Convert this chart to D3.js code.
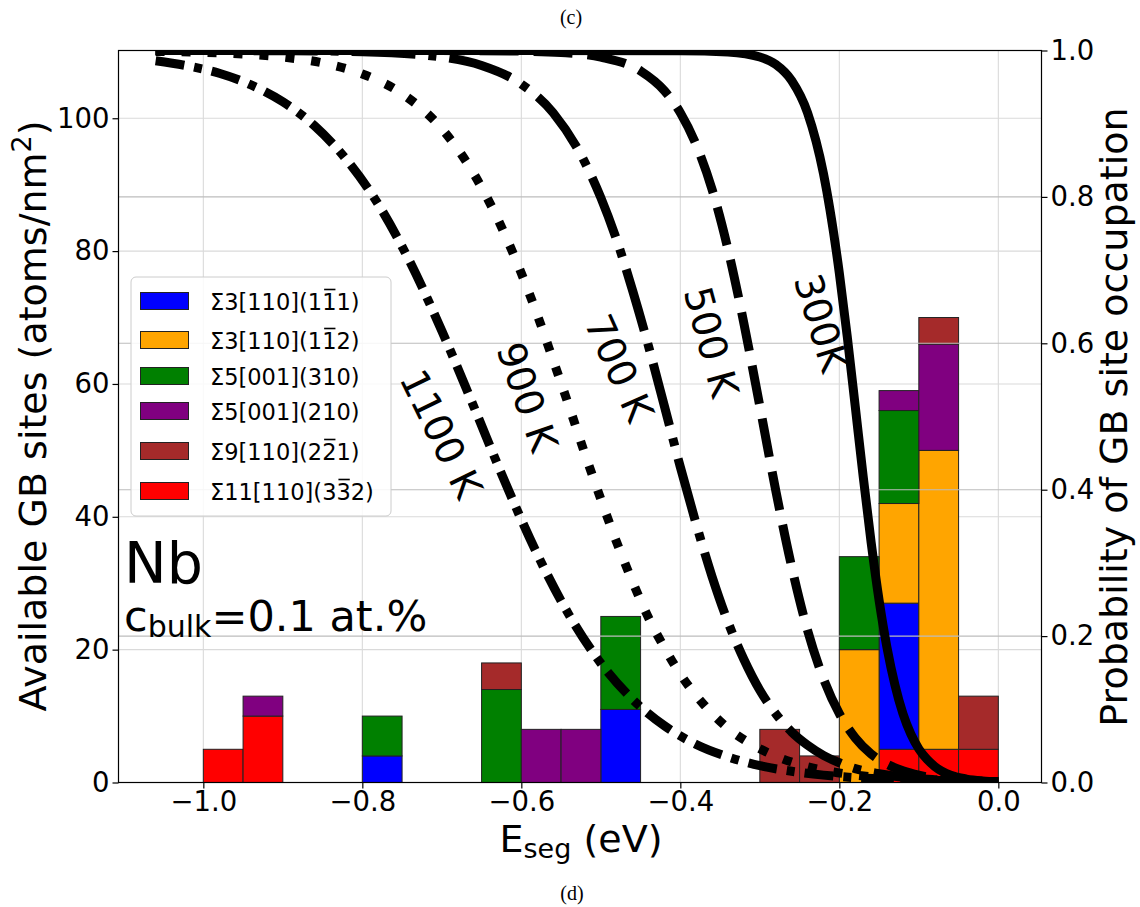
<!DOCTYPE html>
<html><head><meta charset="utf-8">
<script src="https://cdn.jsdelivr.net/npm/d3@7"></script>
<style>body{margin:0;background:#fff}svg{display:block}</style>
</head><body>
<svg id="chart" width="1140" height="907"></svg>
<script>
// ---------------- DATA ----------------
const binStarts = [-1.0,-0.95,-0.9,-0.85,-0.8,-0.75,-0.7,-0.65,-0.6,-0.55,-0.5,-0.45,-0.4,-0.35,-0.3,-0.25,-0.2,-0.15,-0.1,-0.05];
const binWidth = 0.05;
const sigma3_111  = [0,0,0,0,4,0,0,0,0,0,11,0,0,0,0,0,0,22,0,0];
const sigma3_112  = [0,0,0,0,0,0,0,0,0,0,0,0,0,0,0,0,20,15,45,0];
const sigma5_310  = [0,0,0,0,6,0,0,14,0,0,14,0,0,0,0,0,14,14,0,0];
const sigma5_210  = [0,3,0,0,0,0,0,0,8,8,0,0,0,0,0,0,0,3,16,0];
const sigma9_221  = [0,0,0,0,0,0,0,4,0,0,0,0,0,0,8,4,0,0,4,8];
const sigma11_332 = [5,10,0,0,0,0,0,0,0,0,0,0,0,0,0,0,0,5,5,5];

const seriesKeys   = ["s3_111","s3_112","s5_310","s5_210","s9_221","s11_332"];
const seriesValues = [sigma3_111, sigma3_112, sigma5_310, sigma5_210, sigma9_221, sigma11_332];
const seriesColors = ["#0000ff","#ffa500","#008000","#800080","#a52a2a","#ff0000"];
// legend label parts: [before, overlined digit, after]
const seriesLabels = [
  ["Σ3[110](1","1","1)"],
  ["Σ3[110](1","1","2)"],
  ["Σ5[001](310)","",""],
  ["Σ5[001](210)","",""],
  ["Σ9[110](2","2","1)"],
  ["Σ11[110](3","3","2)"]
];
const stackOrder = ["s11_332","s3_111","s3_112","s5_310","s5_210","s9_221"];

// occupation probability curves: [E_seg (eV), probability]
const curve300K = [[-1.06,1.0],[-0.6,1.0],[-0.4,0.9998],[-0.34,0.998],[-0.30,0.991],[-0.28,0.981],[-0.26,0.959],[-0.24,0.915],[-0.22,0.832],[-0.20,0.696],[-0.19,0.609],[-0.18,0.514],[-0.17,0.418],[-0.16,0.328],[-0.15,0.249],[-0.14,0.184],[-0.13,0.133],[-0.12,0.094],[-0.11,0.066],[-0.10,0.046],[-0.09,0.032],[-0.08,0.022],[-0.06,0.010],[-0.04,0.0047],[-0.02,0.0022],[0.0,0.001]];
const curve500K = [[-1.06,1.0],[-0.8,1.0],[-0.7,0.9999],[-0.6,0.9991],[-0.55,0.9972],[-0.50,0.991],[-0.45,0.972],[-0.42,0.945],[-0.40,0.915],[-0.38,0.871],[-0.36,0.810],[-0.34,0.728],[-0.32,0.627],[-0.30,0.514],[-0.28,0.399],[-0.26,0.295],[-0.24,0.208],[-0.22,0.142],[-0.20,0.094],[-0.18,0.061],[-0.16,0.039],[-0.14,0.025],[-0.12,0.016],[-0.10,0.010],[-0.05,0.0032],[0.0,0.001]];
const curve700K = [[-1.06,1.0],[-0.9,0.9997],[-0.8,0.9983],[-0.7,0.991],[-0.65,0.9795],[-0.60,0.954],[-0.56,0.915],[-0.52,0.847],[-0.50,0.799],[-0.48,0.741],[-0.46,0.672],[-0.44,0.596],[-0.42,0.514],[-0.40,0.431],[-0.38,0.353],[-0.36,0.281],[-0.34,0.219],[-0.32,0.168],[-0.30,0.126],[-0.28,0.094],[-0.26,0.069],[-0.24,0.051],[-0.22,0.037],[-0.20,0.027],[-0.18,0.019],[-0.15,0.012],[-0.12,0.0072],[-0.08,0.0038],[-0.04,0.0019],[0.0,0.001]];
const curve900K = [[-1.06,0.9988],[-1.0,0.9975],[-0.95,0.9952],[-0.90,0.991],[-0.85,0.983],[-0.80,0.968],[-0.75,0.941],[-0.70,0.893],[-0.66,0.832],[-0.62,0.747],[-0.58,0.639],[-0.56,0.577],[-0.54,0.514],[-0.52,0.449],[-0.50,0.387],[-0.48,0.328],[-0.46,0.274],[-0.44,0.225],[-0.42,0.184],[-0.40,0.148],[-0.37,0.106],[-0.34,0.074],[-0.31,0.052],[-0.28,0.036],[-0.25,0.0245],[-0.22,0.0168],[-0.19,0.0115],[-0.16,0.0078],[-0.13,0.0053],[-0.10,0.0036],[-0.05,0.0019],[0.0,0.001]];
const curve1100K = [[-1.06,0.986],[-1.02,0.979],[-0.98,0.969],[-0.94,0.953],[-0.90,0.930],[-0.86,0.897],[-0.82,0.851],[-0.78,0.790],[-0.74,0.711],[-0.70,0.617],[-0.66,0.514],[-0.62,0.409],[-0.58,0.312],[-0.54,0.229],[-0.50,0.163],[-0.46,0.1135],[-0.42,0.0775],[-0.38,0.052],[-0.34,0.035],[-0.30,0.023],[-0.26,0.0153],[-0.22,0.0101],[-0.18,0.0066],[-0.14,0.0044],[-0.10,0.0029],[-0.05,0.0017],[0.0,0.001]];

const curves = [
  {name:"300K",  pts:curve300K,  dash:null},
  {name:"500 K", pts:curve500K,  dash:"39,15"},
  {name:"700 K", pts:curve700K,  dash:"64,13,8,13"},
  {name:"900 K", pts:curve900K,  dash:"9,17"},
  {name:"1100 K",pts:curve1100K, dash:"29,10,8,10"}
];
const curveLabelPlacement = [
  {cx:821, cy:323, rot:73},
  {cx:711, cy:342, rot:75},
  {cx:619, cy:368, rot:66},
  {cx:527, cy:397, rot:71},
  {cx:441, cy:434, rot:64}
];

const xTickValues = [-1.0,-0.8,-0.6,-0.4,-0.2,0.0];
const yLeftTicks  = [0,20,40,60,80,100];
const yRightTicks = [0.0,0.2,0.4,0.6,0.8,1.0];

// ---------------- LAYOUT ----------------
const FONT = "DejaVu Sans";
const L = 118.5, R = 1041.5, T = 50.5, B = 782.5;
const svg = d3.select("#chart");
svg.append("rect").attr("width",1140).attr("height",907).attr("fill","#fff");

const x = d3.scaleLinear().domain([-1.1067, 0.0543]).range([L, R]);
const yL = d3.scaleLinear().domain([0, 110.2]).range([B, T]);
const yR = d3.scaleLinear().domain([0, 1.0]).range([B, T]);

svg.append("defs").append("clipPath").attr("id","plotclip")
  .append("rect").attr("x",L).attr("y",T).attr("width",R-L).attr("height",B-T);

// grid (left axis + x) beneath bars
const gGrid = svg.append("g");
gGrid.selectAll(".vg").data(xTickValues).join("line")
  .attr("x1",d=>x(d)).attr("x2",d=>x(d)).attr("y1",T).attr("y2",B)
  .attr("stroke","#dadada").attr("stroke-width",1.1);
gGrid.selectAll(".hg").data(yLeftTicks.slice(1)).join("line")
  .attr("x1",L).attr("x2",R).attr("y1",d=>yL(d)).attr("y2",d=>yL(d))
  .attr("stroke","#dadada").attr("stroke-width",1.1);

// stacked bars
const rows = binStarts.map((b,i)=>{
  const r = {bin:b};
  seriesKeys.forEach((k,j)=>{ r[k] = seriesValues[j][i]; });
  return r;
});
const stack = d3.stack().keys(stackOrder)(rows);
const colorOf = k => seriesColors[seriesKeys.indexOf(k)];
const gBars = svg.append("g").attr("clip-path","url(#plotclip)");
stack.forEach(layer=>{
  gBars.selectAll(null).data(layer.filter(d=>d[1]-d[0]>0)).join("rect")
    .attr("x",d=>x(d.data.bin))
    .attr("width",d=>x(d.data.bin+binWidth)-x(d.data.bin))
    .attr("y",d=>yL(d[1]))
    .attr("height",d=>yL(d[0])-yL(d[1]))
    .attr("fill",colorOf(layer.key))
    .attr("stroke","#222").attr("stroke-width",1);
});

// right-axis grid drawn over bars
const gGrid2 = svg.append("g");
gGrid2.selectAll("line").data(yRightTicks.slice(1,5)).join("line")
  .attr("x1",L).attr("x2",R).attr("y1",d=>yR(d)).attr("y2",d=>yR(d))
  .attr("stroke","#bdbdbd").attr("stroke-width",1.1);

// legend
const lg = svg.append("g");
lg.append("rect").attr("x",131).attr("y",277).attr("width",260).attr("height",239)
  .attr("rx",5).attr("fill","#fff").attr("fill-opacity",0.85)
  .attr("stroke","#cccccc").attr("stroke-width",1);
const rowY = [301,340,376,411,451,491];
seriesKeys.forEach((k,i)=>{
  const cy = rowY[i];
  lg.append("rect").attr("x",140.5).attr("y",cy-8.5).attr("width",48).attr("height",17)
    .attr("fill",seriesColors[i]).attr("stroke","#222").attr("stroke-width",1);
  const parts = seriesLabels[i];
  const t = lg.append("text").attr("x",210).attr("y",cy+8.5)
    .attr("font-family",FONT).attr("font-size",22.5).attr("fill","#000")
    .text(parts[0]+parts[1]+parts[2]);
  if (parts[1]) {
    const idx = parts[0].length;
    const ext = t.node().getExtentOfChar(idx);
    lg.append("line").attr("x1",ext.x+2).attr("x2",ext.x+ext.width-1)
      .attr("y1",cy-11.5).attr("y2",cy-11.5).attr("stroke","#000").attr("stroke-width",1.6);
  }
});

// curves
const line = d3.line().x(d=>x(d[0])).y(d=>yR(d[1])).curve(d3.curveMonotoneX);
const gCurves = svg.append("g").attr("clip-path","url(#plotclip)");
curves.forEach(c=>{
  const p = gCurves.append("path").attr("d",line(c.pts))
    .attr("fill","none").attr("stroke","#000").attr("stroke-width",9)
    .attr("stroke-linecap","butt").attr("stroke-linejoin","round");
  if (c.dash) p.attr("stroke-dasharray",c.dash);
});
curves.forEach((c,i)=>{
  const pl = curveLabelPlacement[i];
  svg.append("text").attr("transform",`translate(${pl.cx},${pl.cy}) rotate(${pl.rot})`)
    .attr("text-anchor","middle").attr("dominant-baseline","central")
    .attr("font-family",FONT).attr("font-size",39).text(c.name);
});

// annotation
svg.append("text").attr("x",124).attr("y",583).attr("font-family",FONT).attr("font-size",57).text("Nb");
const cb = svg.append("text").attr("x",124).attr("y",631).attr("font-family",FONT).attr("font-size",43);
cb.append("tspan").text("c");
cb.append("tspan").attr("font-size",30).attr("dy",6).text("bulk");
cb.append("tspan").attr("dy",-6).text("=0.1 at.%");

// frame
svg.append("rect").attr("x",L).attr("y",T).attr("width",R-L).attr("height",B-T)
  .attr("fill","none").attr("stroke","#000").attr("stroke-width",1.2);

// axes
function styleAxis(g){
  g.select(".domain").remove();
  g.selectAll(".tick line").attr("stroke","#000").attr("stroke-width",1.2);
  g.selectAll(".tick text").attr("font-family",FONT).attr("font-size",27.5).attr("fill","#000");
}
svg.append("g").attr("transform",`translate(0,${B})`)
  .call(d3.axisBottom(x).tickValues(xTickValues).tickFormat(d3.format(".1f")).tickSize(6).tickPadding(3))
  .call(styleAxis);
svg.append("g").attr("transform",`translate(${L},0)`)
  .call(d3.axisLeft(yL).tickValues(yLeftTicks).tickFormat(d3.format("d")).tickSize(6).tickPadding(3))
  .call(styleAxis);
svg.append("g").attr("transform",`translate(${R},0)`)
  .call(d3.axisRight(yR).tickValues(yRightTicks).tickFormat(d3.format(".1f")).tickSize(6).tickPadding(3))
  .call(styleAxis);

// axis labels
const yl = svg.append("text").attr("transform","translate(46,416) rotate(-90)").attr("text-anchor","middle")
  .attr("font-family",FONT).attr("font-size",38);
yl.append("tspan").text("Available GB sites (atoms/nm");
yl.append("tspan").attr("font-size",27).attr("dy",-15).text("2");
yl.append("tspan").attr("dy",15).text(")");
svg.append("text").attr("transform","translate(1127,417) rotate(-90)").attr("text-anchor","middle")
  .attr("font-family",FONT).attr("font-size",38).text("Probability of GB site occupation");
const xl = svg.append("text").attr("x",581).attr("y",852).attr("text-anchor","middle")
  .attr("font-family",FONT).attr("font-size",38);
xl.append("tspan").text("E");
xl.append("tspan").attr("font-size",27).attr("dy",6).text("seg");
xl.append("tspan").attr("dy",-6).text(" (eV)");

// panel captions
svg.append("text").attr("x",571).attr("y",24).attr("text-anchor","middle")
  .attr("font-family","Liberation Serif").attr("font-size",20).text("(c)");
svg.append("text").attr("x",572).attr("y",900).attr("text-anchor","middle")
  .attr("font-family","Liberation Serif").attr("font-size",20).text("(d)");
</script>
</body></html>
